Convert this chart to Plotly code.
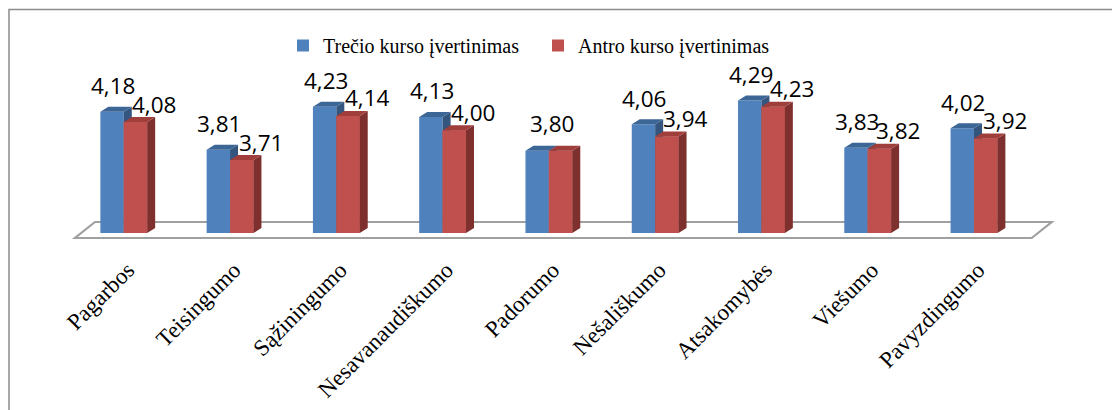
import plotly.graph_objects as go

# ---------------- data ----------------
categories = ["Pagarbos", "Teisingumo", "Sąžiningumo", "Nesavanaudiškumo", "Padorumo",
              "Nešališkumo", "Atsakomybės", "Viešumo", "Pavyzdingumo"]
trecio_kurso = [4.18, 3.81, 4.23, 4.13, 3.80, 4.06, 4.29, 3.83, 4.02]
antro_kurso = [4.08, 3.71, 4.14, 4.00, 3.80, 3.94, 4.23, 3.82, 3.92]
series_names = ["Trečio kurso įvertinimas", "Antro kurso įvertinimas"]
y_base = 3.0

# ---------------- layout constants (page pixels, page has 8px body margin) ----------------
OFF = 8
W, H = 1120 - OFF, 410 - OFF
ML, MR, MT, MB = 60 - OFF, 61, 15 - OFF, 165
pw, ph = W - ML - MR, H - MT - MB
x_range = [-0.6, 8.8]
px_x = pw / (x_range[1] - x_range[0])
px_y = 102.7
base_px = 233 - OFF  # figure pixel row of y_base
y0 = y_base - (MT + ph - base_px) / px_y
y_range = [y0, y0 + ph / px_y]

bw = 23.4 / px_x           # bar width in axis units
dx, dy = 8 / px_x, 5 / px_y  # 3D depth

blue = dict(front="#4F81BD", top="#3C6696", side="#33557E")
red = dict(front="#C0504D", top="#A03E3C", side="#7E302E")

idx = list(range(len(categories)))


def faces(values, offset):
    tx, ty, sx, sy, fx, fy = [], [], [], [], [], []
    for i, v in zip(idx, values):
        xl, xr = i + offset, i + offset + bw
        tx += [xl, xl + dx, xr + dx, xr, xl, None]
        ty += [v, v + dy, v + dy, v, v, None]
        sx += [xr, xr + dx, xr + dx, xr, xr, None]
        sy += [y_base, y_base + dy, v + dy, v, y_base, None]
        fx += [xl, xr, xr, xl, xl, None]
        fy += [y_base, y_base, v, v, y_base, None]
    return (tx, ty), (sx, sy), (fx, fy)


def poly(xy, color):
    return go.Scatter(x=xy[0], y=xy[1], mode="lines", fill="toself",
                      fillcolor=color, line=dict(width=0, color=color),
                      hoverinfo="skip", showlegend=False)


fig = go.Figure()

# front faces as bars (also provide legend)
fig.add_trace(go.Bar(x=idx, y=[v - y_base for v in trecio_kurso], base=y_base,
                     width=bw, offset=-bw, marker=dict(color=blue["front"], line=dict(width=0)),
                     name=series_names[0]))
fig.add_trace(go.Bar(x=idx, y=[v - y_base for v in antro_kurso], base=y_base,
                     width=bw, offset=0, marker=dict(color=red["front"], line=dict(width=0)),
                     name=series_names[1]))

bt, bs, bf = faces(trecio_kurso, -bw)
rt, rs, rf = faces(antro_kurso, 0)
fig.add_trace(poly(bs, blue["side"]))
fig.add_trace(poly(bt, blue["top"]))
fig.add_trace(poly(rf, red["front"]))
fig.add_trace(poly(rs, red["side"]))
fig.add_trace(poly(rt, red["top"]))

# floor (drawn below traces)
fl_front = y_base - 5 / px_y
fl_back = y_base + 11 / px_y
fx0, fx1 = -0.459, 8.543
fdx = 20 / px_x
fig.add_shape(type="path", xref="x", yref="y", layer="below",
              path=f"M{fx0},{fl_front} L{fx1},{fl_front} L{fx1 + fdx},{fl_back} L{fx0 + fdx},{fl_back} Z",
              line=dict(color="#A0A0A0", width=2.2), fillcolor="white")

# frame
fig.add_shape(type="rect", xref="paper", yref="paper",
              x0=(1 - ML) / pw, x1=(W + 5 - ML) / pw,
              y0=(MT + ph - H - 5) / ph, y1=(MT + ph - 1.5) / ph,
              line=dict(color="#8C8C8C", width=1.5), fillcolor="rgba(0,0,0,0)", layer="below")

# data labels
lab_font = dict(family="Open Sans", size=22.5, color="black")
fmt = lambda v: f"{v:.2f}".replace(".", ",")
for i, vb, vr in zip(idx, trecio_kurso, antro_kurso):
    if vb == vr:
        fig.add_annotation(x=i, y=vb, text=fmt(vb), showarrow=False, font=lab_font,
                           xshift=3, yshift=27)
        continue
    fig.add_annotation(x=i - bw / 2, y=vb, text=fmt(vb), showarrow=False, font=lab_font,
                       xshift=1, yshift=26)
    fig.add_annotation(x=i + bw / 2, y=vr, text=fmt(vr), showarrow=False, font=lab_font,
                       xshift=19, yshift=18)

fig.update_layout(
    width=W, height=H, margin=dict(l=ML, r=MR, t=MT, b=MB, autoexpand=False),
    paper_bgcolor="white", plot_bgcolor="rgba(0,0,0,0)",
    barmode="overlay", showlegend=True,
    legend=dict(orientation="h", x=(283 - OFF - ML) / pw, xanchor="left",
                y=(MT + ph - 26 + OFF) / ph, yanchor="top",
                entrywidth=210, entrywidthmode="pixels",
                font=dict(family="Liberation Serif", size=20, color="black"),
                bgcolor="rgba(0,0,0,0)", traceorder="normal"),
    xaxis=dict(range=x_range, tickvals=idx, ticktext=categories, tickangle=-45,
               showgrid=False, zeroline=False, showline=False, ticks="",
               tickfont=dict(family="Liberation Serif", size=23, color="black"),
               automargin=False, ticklabelstandoff=6, ticklabelshift=4,
               fixedrange=True),
    yaxis=dict(range=y_range, visible=False, fixedrange=True, automargin=False),
)

fig.write_html("out.html")
